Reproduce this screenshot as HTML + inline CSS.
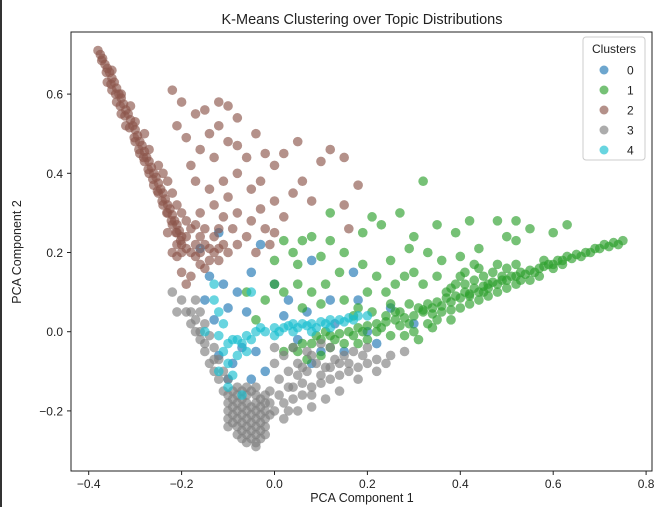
<!DOCTYPE html>
<html><head><meta charset="utf-8"><style>
body{margin:0;background:#fff;}
svg{display:block;font-family:"Liberation Sans","DejaVu Sans",sans-serif;}
</style></head><body>
<svg id="chart" width="655" height="507">
<rect x="0" y="0" width="655" height="507" fill="#fff"/>
<rect x="0" y="0" width="2" height="507" fill="#333"/>
<text x="362" y="24" font-size="14.5" text-anchor="middle" fill="#222">K-Means Clustering over Topic Distributions</text>
<g id="marks"></g>
<rect x="71" y="32" width="581" height="439" fill="none" stroke="#222" stroke-width="1"/>
<g id="xticks"></g><g id="yticks"></g>
<text x="362" y="502" font-size="12.5" text-anchor="middle" fill="#222">PCA Component 1</text>
<text transform="translate(21,252) rotate(-90)" font-size="12.5" text-anchor="middle" fill="#222">PCA Component 2</text>
<g>
<rect x="583" y="37" width="62" height="123" rx="3" fill="#fff" fill-opacity="0.85" stroke="#ccc"/>
<text x="614" y="53" font-size="12" text-anchor="middle" fill="#222">Clusters</text>
<g id="legend-entries"></g>
</g>
</svg>
<script>
const NS="http://www.w3.org/2000/svg";
const xTicks=[-0.4,-0.2,0.0,0.2,0.4,0.6,0.8];
const yTicks=[-0.2,0.0,0.2,0.4,0.6];
const clusterLabels=["0","1","2","3","4"];
const clusterColors=["#1f77b4","#2ca02c","#8c564b","#7f7f7f","#17becf"];
const cluster0=[[-0.16,0.21],[-0.12,0.25],[-0.14,0.14],[-0.11,0.12],[-0.1,0.06],[-0.08,0.1],[-0.15,0.08],[-0.13,0.03],[-0.09,-0.08],[-0.07,-0.04],[-0.05,-0.12],[-0.05,0.15],[0.0,0.12],[0.03,0.08],[0.07,0.05],[0.05,-0.02],[0.1,-0.05],[0.13,0.02],[0.15,-0.05],[0.2,0.0],[0.25,0.06],[0.18,0.08],[0.17,0.15],[0.08,0.18],[-0.04,-0.05],[-0.1,-0.12],[-0.02,-0.1],[0.22,-0.03],[0.3,0.02],[0.08,-0.08],[-0.06,0.05],[0.02,0.04],[-0.12,-0.06],[-0.03,0.22],[0.12,0.08]];
const cluster1=[[0.75,0.23],[0.73,0.225],[0.71,0.22],[0.69,0.21],[0.67,0.2],[0.65,0.195],[0.63,0.19],[0.61,0.18],[0.59,0.17],[0.57,0.16],[0.55,0.155],[0.53,0.15],[0.51,0.14],[0.49,0.13],[0.47,0.125],[0.45,0.115],[0.43,0.11],[0.41,0.1],[0.39,0.09],[0.37,0.085],[0.35,0.075],[0.33,0.07],[0.31,0.06],
[0.74,0.22],[0.72,0.215],[0.7,0.21],[0.68,0.2],[0.66,0.19],[0.64,0.185],[0.62,0.18],[0.6,0.17],[0.58,0.165],[0.56,0.15],[0.54,0.145],[0.52,0.14],[0.5,0.13],[0.48,0.12],[0.46,0.11],[0.44,0.1],[0.42,0.095],[0.4,0.085],[0.38,0.075],[0.36,0.065],[0.34,0.06],[0.32,0.055],
[0.55,0.13],[0.52,0.12],[0.5,0.11],[0.48,0.1],[0.46,0.09],[0.44,0.08],[0.42,0.07],[0.4,0.06],[0.38,0.055],[0.36,0.05],[0.34,0.045],[0.45,0.14],[0.43,0.13],[0.41,0.12],[0.47,0.15],[0.5,0.16],[0.52,0.17],[0.4,0.14],[0.44,0.16],[0.38,0.11],[0.42,0.09],[0.46,0.12],[0.49,0.14],[0.53,0.13],[0.57,0.14],[0.6,0.16],[0.58,0.18],[0.62,0.17],[0.41,0.15],[0.43,0.17],[0.39,0.12],[0.37,0.1],[0.45,0.1],[0.48,0.17],
[0.3,0.04],[0.28,0.035],[0.26,0.03],[0.24,0.025],[0.22,0.02],[0.2,0.015],[0.18,0.01],[0.16,0.0],[0.14,-0.005],[0.12,-0.01],[0.1,-0.02],[0.08,-0.03],[0.06,-0.03],[0.04,-0.04],[0.02,-0.05],[0.3,0.0],[0.28,-0.01],[0.25,-0.01],[0.22,0.0],[0.2,-0.02],[0.18,-0.03],[0.15,-0.03],[0.12,-0.04],[0.1,-0.06],[0.07,-0.07],[0.26,0.05],[0.32,0.05],[0.29,0.07],[0.25,0.07],[0.21,0.05],[0.17,0.04],[0.33,0.02],[0.35,0.03],[0.38,0.03],[0.31,-0.02],
[0.29,0.02],[0.27,0.015],[0.23,0.01],[0.19,0.0],[0.17,-0.01],[0.13,-0.02],[0.11,0.0],[0.09,-0.01],[0.05,-0.05],[0.24,0.04],[0.27,0.05],[0.34,0.01],
[0.32,0.38],[0.27,0.3],[0.35,0.27],[0.42,0.28],[0.48,0.28],[0.52,0.28],[0.55,0.26],[0.6,0.25],[0.63,0.27],[0.5,0.24],[0.52,0.23],[0.44,0.21],[0.39,0.25],[0.33,0.2],[0.29,0.21],[0.25,0.18],[0.3,0.24],[0.36,0.18],[0.4,0.19],[0.35,0.14],[0.3,0.15],[0.26,0.12],[0.22,0.14],[0.19,0.17],[0.15,0.2],[0.12,0.23],[0.08,0.24],[0.06,0.23],[0.04,0.2],[0.02,0.23],[0.0,0.18],[0.05,0.17],[0.1,0.19],[0.14,0.15],[0.2,0.1],[0.24,0.1],[0.11,0.12],[0.08,0.1],[0.05,0.12],[0.02,0.1],[0.0,0.12],[-0.02,0.08],[0.06,0.06],[0.1,0.07],[0.15,0.08],[0.18,0.06],[0.23,0.27],[0.19,0.25],[0.21,0.29],[0.12,0.3],[0.32,0.12],[0.28,0.14],[-0.04,0.03],[-0.06,0.1]];
const cluster2=[[-0.38,0.71],[-0.375,0.70],[-0.37,0.69],[-0.365,0.675],[-0.36,0.665],[-0.355,0.655],[-0.35,0.64],[-0.345,0.63],[-0.34,0.615],[-0.335,0.60],[-0.33,0.59],[-0.325,0.575],[-0.32,0.56],[-0.315,0.55],[-0.31,0.535],[-0.305,0.52],[-0.30,0.51],[-0.295,0.495],[-0.29,0.48],[-0.285,0.47],[-0.28,0.455],[-0.275,0.44],[-0.27,0.43],[-0.265,0.415],[-0.26,0.40],[-0.255,0.39],[-0.25,0.375],[-0.245,0.36],[-0.24,0.35],[-0.235,0.335],[-0.23,0.32],[-0.225,0.31],[-0.22,0.295],[-0.215,0.28],[-0.21,0.27],[-0.205,0.255],[-0.20,0.24],
[-0.372,0.685],[-0.362,0.655],[-0.352,0.625],[-0.342,0.6],[-0.332,0.57],[-0.322,0.545],[-0.312,0.515],[-0.302,0.49],[-0.292,0.46],[-0.282,0.44],[-0.272,0.41],[-0.262,0.385],[-0.252,0.355],[-0.242,0.33],[-0.232,0.3],[-0.222,0.28],[-0.212,0.25],[-0.202,0.23],
[-0.36,0.63],[-0.34,0.58],[-0.33,0.55],[-0.32,0.52],[-0.30,0.48],[-0.29,0.45],[-0.28,0.43],[-0.27,0.40],[-0.26,0.37],[-0.25,0.35],[-0.24,0.32],[-0.23,0.30],[-0.22,0.27],[-0.21,0.25],[-0.20,0.22],[-0.19,0.21],[-0.18,0.20],[-0.17,0.22],[-0.16,0.24],[-0.15,0.22],[-0.14,0.21],[-0.13,0.20],[-0.12,0.21],[-0.13,0.24],[-0.15,0.26],[-0.17,0.27],[-0.19,0.28],[-0.20,0.30],[-0.21,0.32],[-0.22,0.35],[-0.23,0.38],[-0.24,0.40],[-0.25,0.42],[-0.27,0.46],[-0.28,0.50],[-0.30,0.53],[-0.31,0.57],[-0.33,0.60],[-0.35,0.61],[-0.35,0.66],[-0.18,0.14],[-0.2,0.15],[-0.19,0.12],[-0.16,0.17],[-0.15,0.16],[-0.21,0.19],[-0.22,0.2],[-0.23,0.25],[-0.2,0.2],[-0.17,0.19],[-0.14,0.18],[-0.12,0.18],[-0.19,0.24],[-0.18,0.26],[-0.21,0.22],[-0.16,0.2],[-0.11,0.22],
[-0.22,0.61],[-0.2,0.58],[-0.17,0.55],[-0.21,0.52],[-0.19,0.49],[-0.15,0.56],[-0.12,0.58],[-0.1,0.57],[-0.08,0.54],[-0.12,0.52],[-0.14,0.5],[-0.1,0.48],[-0.16,0.46],[-0.13,0.44],[-0.08,0.47],[-0.06,0.44],[-0.04,0.5],[-0.02,0.45],[0.0,0.42],[0.02,0.45],[0.05,0.48],[0.1,0.43],[0.12,0.46],[0.15,0.44],[0.18,0.37],[0.15,0.32],[0.16,0.26],[0.06,0.38],[0.04,0.35],[0.08,0.33],[0.0,0.33],[-0.03,0.38],[-0.05,0.36],[-0.08,0.4],[-0.11,0.38],[-0.14,0.36],[-0.17,0.38],[-0.18,0.42],[-0.1,0.34],[-0.08,0.3],[-0.05,0.28],[-0.03,0.31],[-0.02,0.26],[-0.01,0.22],[0.02,0.29],[-0.06,0.24],[-0.09,0.26],[-0.11,0.29],[-0.13,0.32],[-0.16,0.3],[-0.12,0.26],[-0.08,0.22],[-0.1,0.2],[0.0,0.25],[-0.04,0.2]];
const cluster3=[[-0.1,-0.16],[-0.1,-0.18],[-0.1,-0.2],[-0.1,-0.22],[-0.1,-0.24],[-0.08,-0.14],[-0.08,-0.16],[-0.08,-0.18],[-0.08,-0.2],[-0.08,-0.22],[-0.08,-0.24],[-0.08,-0.26],[-0.06,-0.14],[-0.06,-0.16],[-0.06,-0.18],[-0.06,-0.2],[-0.06,-0.22],[-0.06,-0.24],[-0.06,-0.26],[-0.06,-0.28],[-0.04,-0.14],[-0.04,-0.16],[-0.04,-0.18],[-0.04,-0.2],[-0.04,-0.22],[-0.04,-0.24],[-0.04,-0.26],[-0.04,-0.28],[-0.02,-0.16],[-0.02,-0.18],[-0.02,-0.2],[-0.02,-0.22],[-0.02,-0.24],[-0.02,-0.26],[-0.03,-0.27],[-0.05,-0.27],[-0.07,-0.25],[-0.09,-0.23],[-0.09,-0.19],[-0.07,-0.21],[-0.05,-0.19],[-0.03,-0.21],[-0.05,-0.23],[-0.07,-0.17],[-0.03,-0.17],[-0.05,-0.15],
[-0.09,-0.21],[-0.07,-0.23],[-0.05,-0.25],[-0.03,-0.23],[-0.03,-0.19],[-0.07,-0.19],[-0.09,-0.17],[-0.05,-0.21],[-0.07,-0.27],[-0.04,-0.29],[-0.03,-0.25],[-0.01,-0.21],[-0.01,-0.18],[-0.07,-0.15],[-0.09,-0.15],
[-0.22,0.1],[-0.2,0.08],[-0.19,0.05],[-0.18,0.02],[-0.17,0.0],[-0.16,-0.02],[-0.15,-0.05],[-0.14,-0.08],[-0.13,-0.1],[-0.12,-0.12],[-0.11,-0.15],[-0.21,0.05],[-0.16,0.05],[-0.15,0.02],[-0.14,-0.01],[-0.13,-0.04],[-0.12,-0.07],[-0.11,-0.1],[-0.1,-0.12],[-0.17,0.08],[-0.18,0.05],[-0.17,0.03],[-0.16,0.0],[-0.15,-0.03],[-0.13,-0.07],
[0.0,-0.2],[0.02,-0.18],[0.04,-0.17],[0.06,-0.16],[0.08,-0.14],[0.1,-0.13],[0.12,-0.12],[0.14,-0.11],[0.16,-0.1],[0.18,-0.09],[0.2,-0.08],[0.22,-0.07],[0.25,-0.06],[0.28,-0.05],[0.02,-0.22],[0.05,-0.2],[0.08,-0.19],[0.11,-0.17],[0.14,-0.15],[0.01,-0.12],[0.03,-0.1],[0.05,-0.08],[0.07,-0.1],[0.09,-0.08],[0.11,-0.09],[0.13,-0.07],[0.15,-0.06],[0.17,-0.05],[0.2,-0.04],[0.02,-0.06],[0.04,-0.04],[0.0,-0.08],[0.06,-0.13],[0.1,-0.11],[0.18,-0.12],[0.22,-0.1],[-0.01,-0.15],[0.04,-0.14],[0.07,-0.05],[0.12,-0.04],[0.16,-0.08],[0.1,-0.03],
[0.01,-0.16],[0.03,-0.14],[0.03,-0.2],[0.0,-0.04],[0.06,-0.09],[0.08,-0.06],[0.12,-0.09],[0.14,-0.08],[0.19,-0.06],[0.24,-0.08],[0.08,-0.16],[0.05,-0.11]];
const cluster4=[[-0.1,-0.03],[-0.08,-0.02],[-0.06,-0.01],[-0.04,0.0],[-0.02,0.0],[0.0,0.01],[0.02,0.01],[0.04,0.02],[0.06,0.02],[0.08,0.02],[0.1,0.025],[0.12,0.03],[0.14,0.03],[0.16,0.035],[0.18,0.04],[0.2,0.04],[0.04,0.0],[0.08,0.0],[0.12,0.01],[0.0,-0.01],[-0.12,0.05],[-0.11,0.02],[-0.12,-0.01],[-0.11,-0.05],[-0.1,-0.08],[-0.09,-0.11],[-0.1,-0.14],[-0.08,-0.06],[-0.09,-0.02],[-0.13,0.08],[-0.13,0.12],[-0.05,0.1],[-0.15,0.0],[-0.12,-0.1],[-0.06,-0.05],[-0.07,-0.16],
[-0.03,0.01],[0.01,0.0],[0.03,0.015],[0.05,0.01],[0.07,0.015],[0.09,0.01],[0.11,0.02],[0.15,0.025],[0.17,0.03],[-0.05,-0.02],[-0.07,-0.03]];
const clusters=[cluster0,cluster1,cluster2,cluster3,cluster4];

function xs(v){return 274.5+v*464.5;}
function ys(v){return 331.7-v*396;}

const marks=document.getElementById('marks');
clusters.forEach((pts,ci)=>{
  pts.forEach((p,i)=>{
    const c=document.createElementNS(NS,'circle');
    c.setAttribute('cx',xs(p[0]));c.setAttribute('cy',ys(p[1]));c.setAttribute('r',4.8);
    c.setAttribute('fill',clusterColors[ci]);c.setAttribute('fill-opacity',0.65);
    
    
    marks.appendChild(c);
  });
});
const xg=document.getElementById('xticks');
xTicks.forEach(t=>{
  const x=xs(t);
  const l=document.createElementNS(NS,'line');
  l.setAttribute('x1',x);l.setAttribute('x2',x);l.setAttribute('y1',471);l.setAttribute('y2',475);l.setAttribute('stroke','#222');
  
  
  xg.appendChild(l);
  const tx=document.createElementNS(NS,'text');
  tx.setAttribute('x',x);tx.setAttribute('y',488);tx.setAttribute('font-size','12');tx.setAttribute('text-anchor','middle');tx.setAttribute('fill','#222');
  tx.textContent=(t<0?'\u2212':'')+Math.abs(t).toFixed(1);
  
  
  xg.appendChild(tx);
});
const yg=document.getElementById('yticks');
yTicks.forEach(t=>{
  const y=ys(t);
  const l=document.createElementNS(NS,'line');
  l.setAttribute('x1',67);l.setAttribute('x2',71);l.setAttribute('y1',y);l.setAttribute('y2',y);l.setAttribute('stroke','#222');
  
  
  yg.appendChild(l);
  const tx=document.createElementNS(NS,'text');
  tx.setAttribute('x',63);tx.setAttribute('y',y+4.5);tx.setAttribute('font-size','12');tx.setAttribute('text-anchor','end');tx.setAttribute('fill','#222');
  tx.textContent=(t<0?'\u2212':'')+Math.abs(t).toFixed(1);
  
  
  yg.appendChild(tx);
});
const lg=document.getElementById('legend-entries');
clusterLabels.forEach((lab,i)=>{
  const y=70+i*20;
  const c=document.createElementNS(NS,'circle');
  c.setAttribute('cx',604);c.setAttribute('cy',y);c.setAttribute('r',4.5);c.setAttribute('fill',clusterColors[i]);c.setAttribute('fill-opacity',0.65);
  
  
  lg.appendChild(c);
  const t=document.createElementNS(NS,'text');
  t.setAttribute('x',627);t.setAttribute('y',y+4.5);t.setAttribute('font-size','12');t.setAttribute('fill','#222');
  t.textContent=lab;
  
  
  lg.appendChild(t);
});
</script>
</body></html>
